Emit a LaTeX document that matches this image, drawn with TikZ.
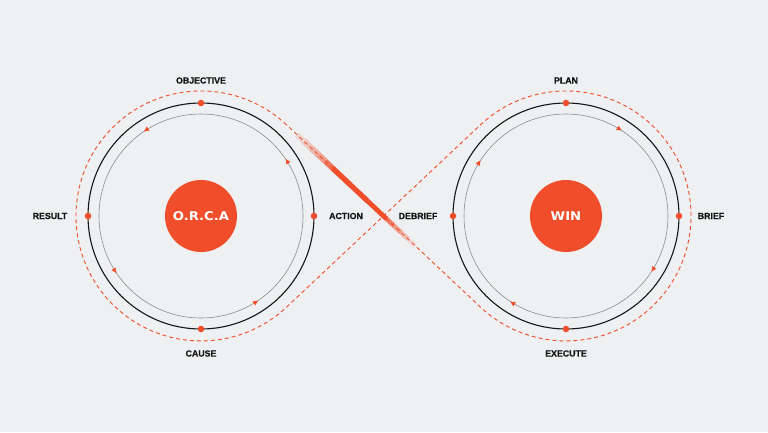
\documentclass[tikz,border=0pt]{standalone}
\usepackage{fontspec}
\setmainfont{Liberation Sans}
\newfontfamily\lblfont{Liberation Sans}[BoldFeatures={FakeBold=0.6}]
\newfontfamily\ctrfont[FakeStretch=1.1]{DejaVu Sans}
\usetikzlibrary{arrows.meta,decorations.markings,calc}
\definecolor{bgc}{HTML}{EEF0F2}
\definecolor{orc}{HTML}{F04E2B}
\definecolor{ink}{HTML}{161616}
\definecolor{ringc}{HTML}{8C8C8C}
\begin{document}
\begin{tikzpicture}[x=1pt,y=1pt,
  lbl/.style={font=\lblfont\bfseries\fontsize{8.8}{10}\selectfont, text=ink, inner sep=0pt},
  hub/.style={circle, fill=orc, minimum size=72pt, inner sep=0pt, text=white,
    font=\ctrfont\bfseries\fontsize{12}{14}\selectfont},
  outerring/.style={draw=ink, line width=1.1pt},
  innerring/.style={draw=ringc, line width=0.6pt},
  stagedot/.style={circle, fill=orc, minimum size=6.5pt, inner sep=0pt},
  loopline/.style={draw=orc, line width=0.9pt, dash pattern=on 4pt off 3pt},
  tipmark/.style={decoration={markings,
      mark=at position #1 with {\arrow{Triangle[length=5pt,width=4.6pt,color=orc]}}}},
]
\useasboundingbox (0,0) rectangle (768,432);
\fill[bgc] (0,0) rectangle (768,432);

% centres and tangent points
\coordinate (CL) at (201,216);
\coordinate (CR) at (566,216);
\coordinate (X) at (383.5,216);
\coordinate (TL1) at (286.6,307.1);
\coordinate (TL2) at (286.6,124.9);
\coordinate (TR1) at (480.4,307.1);
\coordinate (TR2) at (480.4,124.9);

% dashed figure-eight loop
\draw[loopline] (TL1) arc[start angle=46.77, end angle=313.23, radius=125]
  -- (X) -- (TR1) arc[start angle=133.23, end angle=-133.23, radius=125]
  -- (X) -- cycle;

% brush stroke on the crossing line
\foreach \ta/\tb/\op/\w in {
  0.054/0.0905/0.15/6, 0.0905/0.127/0.25/6.5, 0.127/0.1634/0.35/6.5,
  0.1634/0.1999/0.5/6, 0.1999/0.2364/0.75/5.6, 0.2364/0.3276/1/5.4,
  0.3276/0.4188/1/5.2, 0.4188/0.5161/1/4.8, 0.5161/0.5526/0.7/4.6,
  0.5526/0.589/0.5/4.6, 0.589/0.6255/0.3/4.6, 0.6255/0.662/0.12/4.6}
  \draw[orc, line width=\w pt, draw opacity=\op, line cap=butt]
    ($(TL1)!\ta!(TR2)$) -- ($(TL1)!\tb!(TR2)$);

% left cycle
\draw[outerring] (CL) circle[radius=113];
\draw[innerring, postaction={decorate, tipmark=0.0944}, postaction={decorate, tipmark=0.3444},
      postaction={decorate, tipmark=0.5944}, postaction={decorate, tipmark=0.8444}]
  ($(CL)+(102,0)$) arc[start angle=0, end angle=360, radius=102];
\node[hub] (orca) at (CL) {O.R.C.A};
\node[stagedot] (dO) at ($(CL)+(0,113)$) {};
\node[stagedot] (dR) at ($(CL)+(-113,0)$) {};
\node[stagedot] (dC) at ($(CL)+(0,-113)$) {};
\node[stagedot] (dA) at ($(CL)+(113,0)$) {};

% right cycle
\draw[outerring] (CR) circle[radius=113];
\draw[innerring, postaction={decorate, tipmark=0.0917}, postaction={decorate, tipmark=0.3417},
      postaction={decorate, tipmark=0.5917}, postaction={decorate, tipmark=0.8417}]
  ($(CR)+(102,0)$) arc[start angle=0, end angle=-360, radius=102];
\node[hub] (win) at (CR) {WIN};
\node[stagedot] (dP) at ($(CR)+(0,113)$) {};
\node[stagedot] (dB) at ($(CR)+(113,0)$) {};
\node[stagedot] (dE) at ($(CR)+(0,-113)$) {};
\node[stagedot] (dD) at ($(CR)+(-113,0)$) {};

% labels
\node[lbl] (lO) at (201,351.5) {OBJECTIVE};
\node[lbl] (lC) at (201,78.5) {CAUSE};
\node[lbl] (lR) at (50,216) {RESULT};
\node[lbl] (lA) at (346,216) {ACTION};
\node[lbl] (lD) at (418,216) {DEBRIEF};
\node[lbl] (lP) at (566,351.5) {PLAN};
\node[lbl] (lE) at (566,78.5) {EXECUTE};
\node[lbl] (lB) at (711,216) {BRIEF};
\end{tikzpicture}
\end{document}
